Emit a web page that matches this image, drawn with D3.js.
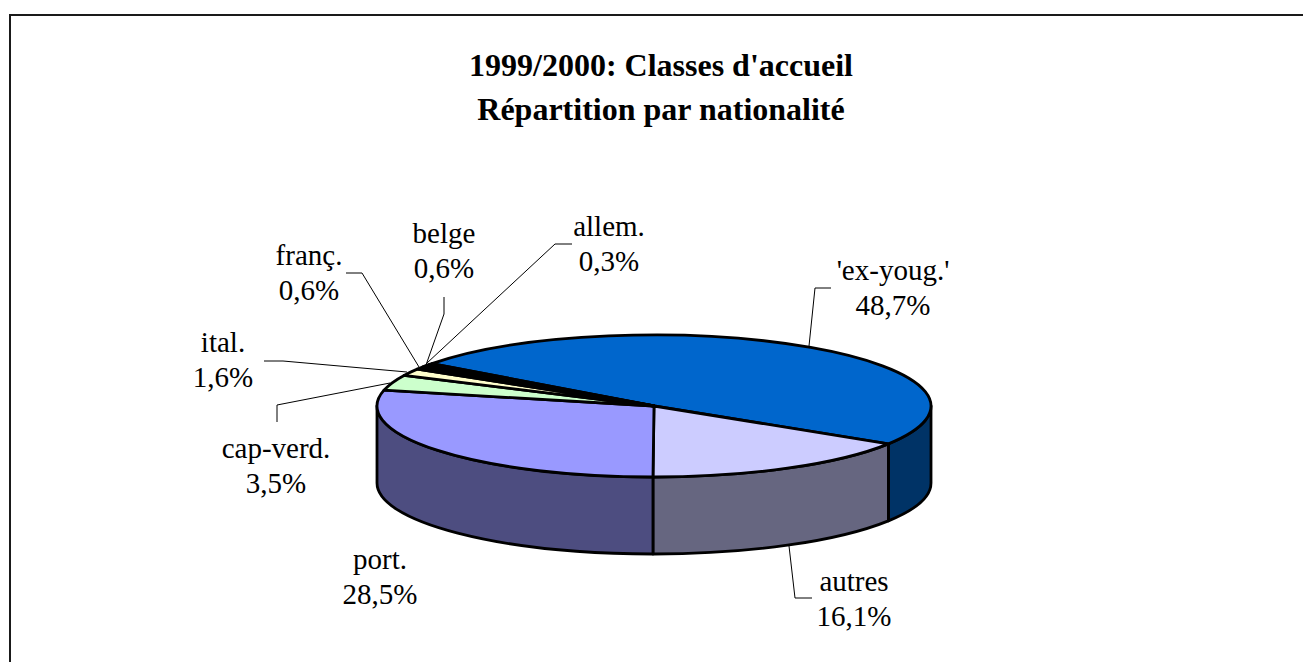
<!DOCTYPE html>
<html><head><meta charset="utf-8">
<script src="https://cdn.jsdelivr.net/npm/d3@7"></script>
<style>html,body{margin:0;padding:0;background:#fff;overflow:hidden}svg{display:block}</style>
</head><body><svg id="c" width="1303" height="662"></svg>
<script>
const titleLines = ["1999/2000: Classes d'accueil", "Répartition par nationalité"];
const categories = ["'ex-youg.'", "autres", "port.", "cap-verd.", "ital.", "franç.", "belge", "allem."];
const shares = [48.7, 16.1, 28.5, 3.5, 1.6, 0.6, 0.6, 0.3];
const shareLabels = ["48,7%", "16,1%", "28,5%", "3,5%", "1,6%", "0,6%", "0,6%", "0,3%"];
const topColors = ["#0066cc", "#ccccff", "#9999ff", "#ccffcc", "#ffffcc", "#000000", "#000000", "#000000"];
const sideColors = ["#003366", "#666680", "#4d4d80", "#669966", "#808066", "#000000", "#000000", "#000000"];
const labelAnchors = [[893, 280], [854, 591], [380, 569], [276, 458], [223, 352], [309, 265], [444, 243], [609, 236]];
const leaderPaths = [
  [[809, 346], [815, 288], [831, 288]],
  [[789, 546], [795, 598], [812, 598]],
  null,
  [[390, 383], [277, 405], [277, 422]],
  [[407, 372], [283, 361], [264, 361]],
  [[419, 367], [362, 273], [346, 273]],
  [[426, 365], [444, 314], [444, 297]],
  [[427, 363], [555, 244], [572, 244]]
];
const cx = 654, cy = 406, rx = 277, ry = 71, depth = 77;

const svg = d3.select("#c");
svg.append("rect").attr("x", 10).attr("y", 15).attr("width", 1400).attr("height", 800)
  .attr("fill", "#fff").attr("stroke", "#1a1a1a").attr("stroke-width", 2);

const pie = d3.pie().sort(null).startAngle(-53.3 * Math.PI / 180).endAngle(2 * Math.PI - 53.3 * Math.PI / 180);
const arcs = pie(shares);
const X = a => cx + rx * Math.sin(a), Y = a => cy - ry * Math.cos(a);

const g = svg.append("g").attr("stroke", "#000").attr("stroke-width", 2.8).attr("stroke-linejoin", "round");
const lo = Math.PI / 2, hi = 3 * Math.PI / 2;
arcs.forEach((d, i) => {
  let a0 = Math.max(d.startAngle, lo), a1 = Math.min(d.endAngle, hi);
  if (a1 <= a0) return;
  const large = a1 - a0 > Math.PI ? 1 : 0;
  g.append("path").attr("fill", sideColors[i]).attr("d",
    `M${X(a0)},${Y(a0)}A${rx},${ry} 0 ${large} 1 ${X(a1)},${Y(a1)}` +
    `L${X(a1)},${Y(a1) + depth}A${rx},${ry} 0 ${large} 0 ${X(a0)},${Y(a0) + depth}Z`);
});
arcs.forEach((d, i) => {
  const a0 = d.startAngle, a1 = d.endAngle;
  const large = a1 - a0 > Math.PI ? 1 : 0;
  g.append("path").attr("fill", topColors[i]).attr("d",
    `M${cx},${cy}L${X(a0)},${Y(a0)}A${rx},${ry} 0 ${large} 1 ${X(a1)},${Y(a1)}Z`);
});

const line = d3.line();
leaderPaths.forEach(p => {
  if (p) svg.append("path").attr("d", line(p)).attr("fill", "none").attr("stroke", "#000").attr("stroke-width", 1);
});

const font = "'Liberation Serif','Times New Roman',serif";
titleLines.forEach((t, i) => svg.append("text").text(t)
  .attr("x", 661).attr("y", 76 + i * 44).attr("text-anchor", "middle")
  .attr("font-family", font).attr("font-size", 32).attr("font-weight", "bold").attr("fill", "#000"));
categories.forEach((c, i) => {
  const [x, y] = labelAnchors[i];
  const t = svg.append("text").attr("text-anchor", "middle").attr("font-family", font).attr("font-size", 29).attr("fill", "#000");
  t.append("tspan").attr("x", x).attr("y", y).text(c);
  t.append("tspan").attr("x", x).attr("y", y + 35).text(shareLabels[i]);
});
</script></body></html>
